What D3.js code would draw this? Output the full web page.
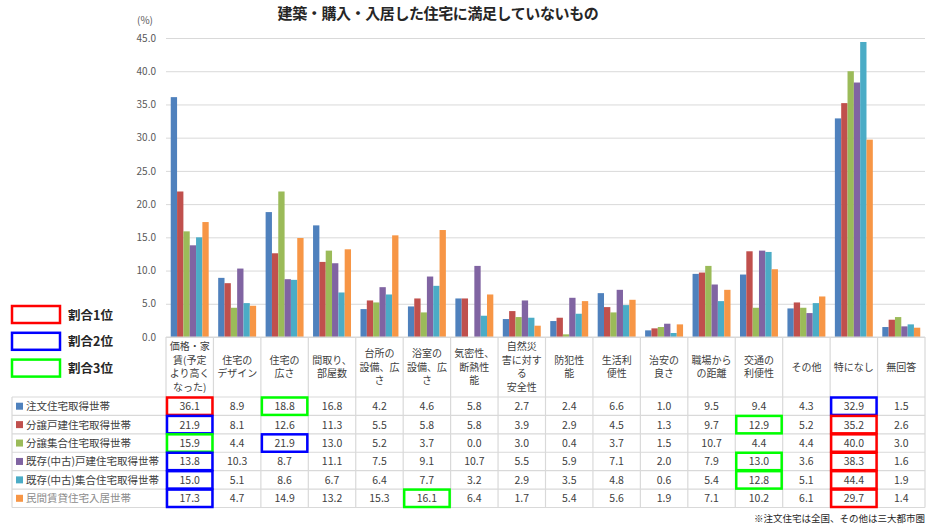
<!DOCTYPE html>
<html>
<head>
<meta charset="utf-8">
<script src="https://cdn.jsdelivr.net/npm/d3@7"></script>
<style>
  body { margin: 0; background: #fff; }
  svg { font-family: "Noto Sans CJK JP", "Noto Sans", sans-serif; }
</style>
</head>
<body>
<svg id="chart" width="933" height="526"></svg>
<script>
var categories = ["価格・家\n賃(予定\nより高く\nなった)", "住宅の\nデザイン", "住宅の\n広さ", "間取り、\n部屋数",
  "台所の\n設備、広\nさ", "浴室の\n設備、広\nさ", "気密性、\n断熱性\n能", "自然災\n害に対す\nる\n安全性",
  "防犯性\n能", "生活利\n便性", "治安の\n良さ", "職場から\nの距離", "交通の\n利便性", "その他", "特になし", "無回答"];

var seriesNames = ["注文住宅取得世帯", "分譲戸建住宅取得世帯", "分譲集合住宅取得世帯",
  "既存(中古)戸建住宅取得世帯", "既存(中古)集合住宅取得世帯", "民間賃貸住宅入居世帯"];
var colors = ["#4f81bd", "#c0504d", "#9bbb59", "#8064a2", "#4bacc6", "#f79646"];

var chumon    = [36.1, 8.9, 18.8, 16.8, 4.2, 4.6, 5.8, 2.7, 2.4, 6.6, 1.0, 9.5, 9.4, 4.3, 32.9, 1.5];
var bunjoKodate = [21.9, 8.1, 12.6, 11.3, 5.5, 5.8, 5.8, 3.9, 2.9, 4.5, 1.3, 9.7, 12.9, 5.2, 35.2, 2.6];
var bunjoShugo  = [15.9, 4.4, 21.9, 13.0, 5.2, 3.7, 0.0, 3.0, 0.4, 3.7, 1.5, 10.7, 4.4, 4.4, 40.0, 3.0];
var kizonKodate = [13.8, 10.3, 8.7, 11.1, 7.5, 9.1, 10.7, 5.5, 5.9, 7.1, 2.0, 7.9, 13.0, 3.6, 38.3, 1.6];
var kizonShugo  = [15.0, 5.1, 8.6, 6.7, 6.4, 7.7, 3.2, 2.9, 3.5, 4.8, 0.6, 5.4, 12.8, 5.1, 44.4, 1.9];
var chintai     = [17.3, 4.7, 14.9, 13.2, 15.3, 16.1, 6.4, 1.7, 5.4, 5.6, 1.9, 7.1, 10.2, 6.1, 29.7, 1.4];

var yTicks = [0, 5, 10, 15, 20, 25, 30, 35, 40, 45];
var rankNames = ["割合1位", "割合2位", "割合3位"];
var rankColors = ["#ff0000", "#0000ff", "#00ff00"];

var series = [chumon, bunjoKodate, bunjoShugo, kizonKodate, kizonShugo, chintai];

var svg = d3.select('#chart');
var left = 166, right = 925;
var headTop = 337, headBottom = 397, tableBottom = 507.5;
var gridColor = '#d9d9d9';

var x0 = d3.scaleBand().domain(d3.range(categories.length)).range([left, right]);
var x1 = d3.scaleBand().domain(d3.range(series.length))
  .range([x0.bandwidth() * 0.1, x0.bandwidth() * 0.9]);
var y = d3.scaleLinear().domain([0, 45]).range([headTop, 38]);
var rowY = d3.scaleBand().domain(d3.range(series.length)).range([headBottom, tableBottom]);

// title
svg.append('text')
  .attr('x', 438).attr('y', 19)
  .attr('text-anchor', 'middle')
  .style('font-size', '15px')
  .style('letter-spacing', '-0.4px')
  .style('font-weight', 'bold')
  .style('fill', '#262626')
  .text('建築・購入・入居した住宅に満足していないもの');

svg.append('text')
  .attr('x', 145).attr('y', 24)
  .attr('text-anchor', 'middle')
  .style('font-size', '10px')
  .style('fill', '#595959')
  .text('(%)');

// grid + y axis
var yAxis = svg.append('g')
  .attr('transform', 'translate(' + left + ',0)')
  .call(d3.axisLeft(y).tickValues(yTicks).tickSize(-(right - left)).tickPadding(10).tickFormat(d3.format('.1f')));
yAxis.select('.domain').remove();
yAxis.selectAll('line').style('stroke', gridColor);
yAxis.selectAll('text').style('font-size', '10px').style('fill', '#595959')
  .style('font-family', '"Noto Sans CJK JP", sans-serif');

// bars
var groups = svg.append('g').selectAll('g')
  .data(series)
  .enter().append('g')
  .attr('fill', (d, j) => colors[j]);

groups.selectAll('rect')
  .data((d, j) => d.map((v, i) => ({ v: v, i: i, j: j })))
  .enter().append('rect')
  .attr('x', d => x0(d.i) + x1(d.j))
  .attr('y', d => y(d.v))
  .attr('width', x1.bandwidth())
  .attr('height', d => y(0) - y(d.v));

// table grid
var grid = svg.append('g').style('stroke', gridColor).style('stroke-width', 1.2);
grid.append('line').attr('x1', left).attr('x2', right).attr('y1', headTop).attr('y2', headTop);
grid.selectAll('.hrow')
  .data(d3.range(series.length + 1))
  .enter().append('line')
  .attr('x1', 12).attr('x2', right)
  .attr('y1', d => d < series.length ? rowY(d) : tableBottom)
  .attr('y2', d => d < series.length ? rowY(d) : tableBottom);
grid.selectAll('.vcol')
  .data(d3.range(categories.length + 1))
  .enter().append('line')
  .attr('x1', d => d < categories.length ? x0(d) : right)
  .attr('x2', d => d < categories.length ? x0(d) : right)
  .attr('y1', headTop).attr('y2', tableBottom);
grid.append('line').attr('x1', 12).attr('x2', 12).attr('y1', headBottom).attr('y2', tableBottom);

// category labels, one text per line
var lineH = 13.4;
var labelLines = [];
categories.forEach(function (c, i) {
  var lines = c.split('\n');
  var cy = (headTop + headBottom) / 2 - (lines.length - 1) * lineH / 2 + 3.5;
  lines.forEach((l, k) => labelLines.push({ t: l, i: i, y: cy + k * lineH }));
});
svg.append('g').selectAll('text')
  .data(labelLines)
  .enter().append('text')
  .attr('x', d => x0(d.i) + x0.bandwidth() / 2)
  .attr('y', d => d.y)
  .attr('text-anchor', 'middle')
  .style('font-size', '10px')
  .style('fill', '#404040')
  .text(d => d.t);

// row labels
var rows = svg.append('g').selectAll('g')
  .data(series)
  .enter().append('g');
rows.append('rect')
  .attr('x', 16).attr('y', (d, j) => rowY(j) + rowY.bandwidth() / 2 - 3.5)
  .attr('width', 7).attr('height', 7)
  .attr('fill', (d, j) => colors[j]);
rows.append('text')
  .attr('x', 26).attr('y', (d, j) => rowY(j) + rowY.bandwidth() / 2 + 4)
  .style('font-size', '10.5px')
  .style('fill', (d, j) => j === series.length - 1 ? '#8c8c8c' : '#404040')
  .text((d, j) => seriesNames[j]);

// cell values
rows.selectAll('.val')
  .data((d, j) => d.map((v, i) => ({ v: v, i: i, j: j })))
  .enter().append('text')
  .attr('x', d => x0(d.i) + x0.bandwidth() / 2)
  .attr('y', d => rowY(d.j) + rowY.bandwidth() / 2 + 4)
  .attr('text-anchor', 'middle')
  .style('font-size', '10.5px')
  .style('fill', '#404040')
  .text(d => d3.format('.1f')(d.v));

// top-3 highlight boxes per row
var marks = [];
series.forEach(function (vals, j) {
  var order = d3.range(vals.length).sort((a, b) => vals[b] - vals[a]);
  for (var r = 0; r < 3; r++) marks.push({ i: order[r], j: j, r: r });
});
svg.append('g').selectAll('rect')
  .data(marks)
  .enter().append('rect')
  .attr('x', d => x0(d.i) + 1)
  .attr('y', d => rowY(d.j) + 0.5)
  .attr('width', x0.bandwidth() - 2)
  .attr('height', rowY.bandwidth() - 1)
  .attr('fill', 'none')
  .attr('stroke', d => rankColors[d.r])
  .attr('stroke-width', 2.5);

// rank legend
var legend = svg.append('g').selectAll('g')
  .data(rankNames)
  .enter().append('g')
  .attr('transform', (d, k) => 'translate(0,' + (306 + k * 26.8) + ')');
legend.append('rect')
  .attr('x', 12).attr('y', 0)
  .attr('width', 48).attr('height', 17)
  .attr('fill', 'none')
  .attr('stroke', (d, k) => rankColors[k])
  .attr('stroke-width', 2.5);
legend.append('text')
  .attr('x', 68).attr('y', 13.5)
  .style('font-size', '12.5px')
  .style('font-weight', 'bold')
  .style('fill', '#262626')
  .text(d => d);

// footnote
svg.append('text')
  .attr('x', 925).attr('y', 522)
  .attr('text-anchor', 'end')
  .style('font-size', '9.5px')
  .style('fill', '#262626')
  .text('※注文住宅は全国、その他は三大都市圏');
</script>
</body>
</html>
